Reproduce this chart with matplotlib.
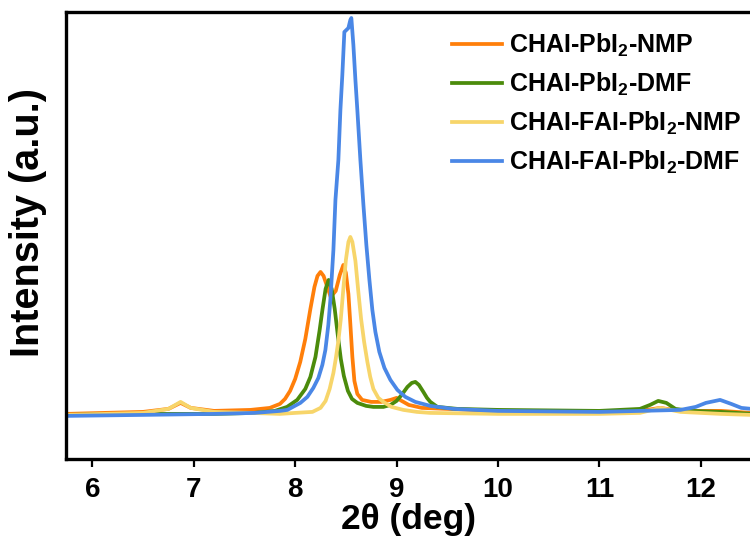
import matplotlib.pyplot as plt

plt.rcParams['font.family'] = ['Liberation Sans', 'DejaVu Sans']
plt.rcParams['font.weight'] = 'bold'
plt.rcParams['mathtext.fontset'] = 'custom'
plt.rcParams['mathtext.default'] = 'bf'
plt.rcParams['mathtext.bf'] = 'Liberation Sans:bold'

# values (2theta in deg, intensity in arbitrary units)
orange_x = [5.74, 6.5, 6.75, 6.87, 6.97, 7.2, 7.56, 7.75, 7.85, 7.90, 7.95, 8.0, 8.05, 8.10,
            8.15, 8.19, 8.22, 8.25, 8.28, 8.31, 8.35, 8.40, 8.44, 8.475, 8.50, 8.525, 8.544,
            8.564, 8.584, 8.613, 8.66, 8.75, 8.85, 8.94, 9.0, 9.05, 9.12, 9.25, 9.5, 10.0,
            11.0, 11.4, 11.6, 11.8, 12.2, 12.5]
orange_y = [45, 47, 50, 56, 51, 48, 49, 51, 55, 60, 68, 80, 97, 120,
            150, 172, 183, 187, 183, 174, 162, 168, 184, 194, 186, 165, 135,
            102, 78, 65, 59, 57, 57, 59, 61, 58, 54, 51, 50, 48,
            47, 48, 51, 48, 48, 46]

green_x = [5.74, 6.5, 7.2, 7.6, 7.8, 7.92, 8.02, 8.10, 8.15, 8.20, 8.24, 8.27, 8.30, 8.33,
           8.36, 8.39, 8.42, 8.45, 8.48, 8.52, 8.56, 8.613, 8.70, 8.771, 8.87, 8.94, 9.0,
           9.05, 9.107, 9.15, 9.185, 9.22, 9.264, 9.30, 9.333, 9.402, 9.6, 10.0, 11.0, 11.4,
           11.5, 11.58, 11.66, 11.75, 11.9, 12.2, 12.5]
green_y = [44, 45, 45, 46, 48, 52, 59, 70, 82, 102, 128, 150, 170, 179,
           170, 150, 124, 100, 83, 68, 60, 56, 53, 52, 52, 54, 58,
           64, 72, 76, 77, 74, 67, 61, 57, 52, 50, 49, 48, 50,
           54, 58, 56, 50, 48, 47, 45]

yellow_x = [5.74, 6.5, 6.75, 6.87, 6.97, 7.2, 7.56, 7.85, 8.0, 8.17, 8.25, 8.30, 8.34, 8.377,
            8.40, 8.426, 8.45, 8.475, 8.50, 8.525, 8.544, 8.564, 8.594, 8.623, 8.65, 8.68,
            8.712, 8.74, 8.771, 8.82, 8.87, 8.95, 9.067, 9.2, 9.333, 10.0, 11.0, 11.4, 11.6,
            11.8, 12.2, 12.5]
yellow_y = [44, 46, 50, 57, 51, 47, 46, 45, 46, 47, 51, 58, 70, 86,
            100, 118, 140, 170, 199, 217, 222, 217, 198, 167, 140, 117,
            97, 82, 70, 61, 57, 52, 49, 47, 46, 45, 45, 46, 51,
            47, 45, 44]

blue_x = [5.74, 6.5, 7.2, 7.6, 7.85, 7.923, 8.051, 8.12, 8.179, 8.229, 8.268, 8.298, 8.327,
          8.347, 8.377, 8.397, 8.426, 8.446, 8.465, 8.485, 8.505, 8.525, 8.544, 8.554, 8.574,
          8.594, 8.613, 8.643, 8.673, 8.702, 8.732, 8.761, 8.791, 8.83, 8.88, 8.939, 9.008,
          9.087, 9.185, 9.333, 9.56, 10.0, 11.0, 11.8, 11.95, 12.05, 12.19, 12.3, 12.4, 12.5]
blue_y = [43, 44, 45, 46, 48, 49, 56, 62, 71, 81, 94, 109, 134,
          159, 209, 259, 299, 349, 384, 427, 429, 431, 439, 441, 414,
          379, 349, 299, 254, 214, 179, 149, 127, 107, 91, 79, 69,
          62, 57, 53, 50, 48, 47, 49, 52, 56, 59, 55, 51, 50]

labels = ['CHAI-PbI$_2$-NMP', 'CHAI-PbI$_2$-DMF',
          'CHAI-FAI-PbI$_2$-NMP', 'CHAI-FAI-PbI$_2$-DMF']
colors = ['#FF7F0A', '#4B8B0B', '#F7D56A', '#4A87E6']
xticks = [6, 7, 8, 9, 10, 11, 12]

fig = plt.figure(figsize=(7.5, 5.45), dpi=100)
ax = fig.add_axes([0.088, 0.158, 0.914, 0.82])

series = [(orange_x, orange_y), (green_x, green_y), (yellow_x, yellow_y), (blue_x, blue_y)]
for (xs, ys), lab, col in zip(series, labels, colors):
    ax.plot(xs, ys, color=col, lw=2.7, label=lab, solid_joinstyle='round')

ax.set_xlim(5.74, 12.5)
ax.set_ylim(0, 447)
ax.set_xticks(xticks)
ax.set_yticks([])
ax.tick_params(axis='x', direction='out', length=6, width=1.6, pad=7, labelsize=20)
for s in ['left', 'top', 'bottom']:
    ax.spines[s].set_linewidth(2.4)
ax.spines['right'].set_visible(False)

ax.set_xlabel('2θ (deg)', fontsize=25.5, fontweight='bold', labelpad=0)
ax.set_ylabel('Intensity (a.u.)', fontsize=28.5, fontweight='bold')
ax.yaxis.set_label_coords(-0.028, 0.53)

leg = ax.legend(loc='upper right', frameon=False, fontsize=18, handlelength=2.0,
                handletextpad=0.3, labelspacing=0.48, borderaxespad=0.1,
                bbox_to_anchor=(1.004, 0.984))

fig.savefig('out.png', dpi=100)
